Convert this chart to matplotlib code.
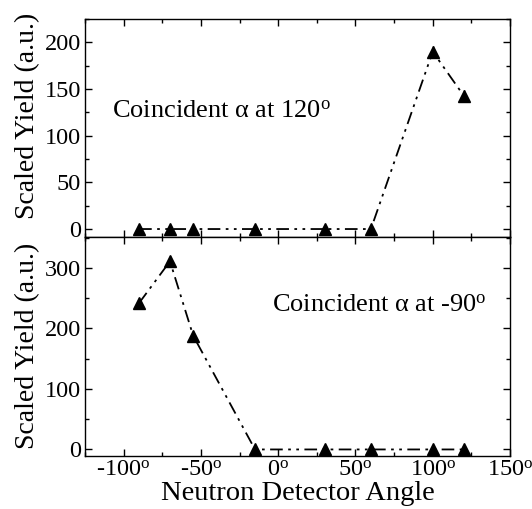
import numpy as np
import matplotlib
matplotlib.use('Agg')
import matplotlib.pyplot as plt
from matplotlib.ticker import MultipleLocator, FuncFormatter

plt.rcParams['font.family'] = ['Liberation Serif', 'DejaVu Serif']
plt.rcParams['mathtext.fontset'] = 'custom'
plt.rcParams['mathtext.rm'] = 'Liberation Serif'
plt.rcParams['mathtext.it'] = 'Liberation Serif:italic'

# neutron detector angles (deg)
angles = [-90, -70, -55, -15, 30, 60, 100, 120]

# alpha detector at 120 deg
yield_120 = [0, 0, 0, 0, 0, 0, 190, 143]
err_120 = [2, 2, 2, 2, 2, 2, 6, 6]

# alpha detector at -90 deg
yield_m90 = [242, 311, 188, 0, 0, 0, 0, 0]
err_m90 = [8, 8, 8, 2, 2, 2, 2, 2]

x_ticks = [-100, -50, 0, 50, 100, 150]

fig = plt.figure(figsize=(5.32, 5.09), dpi=100)
W, H = 532, 509
ax1 = fig.add_axes([85 / W, 1 - 236.5 / H, 425 / W, 217.5 / H])
ax2 = fig.add_axes([85 / W, 1 - 455.5 / H, 425 / W, 219 / H], sharex=ax1)

dash_dot_dot = (0, (7, 3, 1.5, 3, 1.5, 3))


def draw_panel(ax, y, err):
    ax.errorbar(angles, y, yerr=err, color='black', marker='^', markersize=9,
                linestyle=dash_dot_dot, linewidth=1.3, elinewidth=1, capsize=0)
    ax.tick_params(direction='in', which='both', top=True, right=True,
                   labelsize=17.5, width=1, pad=3)
    ax.tick_params(which='major', length=5)
    ax.tick_params(which='minor', length=3)
    for s in ax.spines.values():
        s.set_linewidth(1)
    ax.set_ylabel('Scaled Yield (a.u.)', fontsize=20)


draw_panel(ax1, yield_120, err_120)
draw_panel(ax2, yield_m90, err_m90)
ax1.yaxis.set_label_coords(-0.105, 0.556)
ax2.yaxis.set_label_coords(-0.105, 0.5)

ax1.set_xlim(-125, 150)
ax1.xaxis.set_major_locator(MultipleLocator(50))
ax1.xaxis.set_minor_locator(MultipleLocator(25))
ax1.tick_params(labelbottom=False)

ax1.set_ylim(-8, 225)
ax1.yaxis.set_major_locator(MultipleLocator(50))
ax1.yaxis.set_minor_locator(MultipleLocator(25))

ax2.set_ylim(-10, 352)
ax2.yaxis.set_major_locator(MultipleLocator(100))
ax2.yaxis.set_minor_locator(MultipleLocator(50))

ax2.set_xticks(x_ticks)
ax2.xaxis.set_major_formatter(FuncFormatter(lambda v, p: r'%d$^{\rm o}$' % v))
ax2.set_xlabel('Neutron Detector Angle', fontsize=20.5, labelpad=0.5)

ax1.text(0.063, 0.545, 'Coincident α at 120$^{\\rm o}$', transform=ax1.transAxes,
         fontsize=19, ha='left', va='baseline')
ax2.text(0.945, 0.657, 'Coincident α at -90$^{\\rm o}$', transform=ax2.transAxes,
         fontsize=19, ha='right', va='baseline')

fig.savefig('out.png', dpi=100)
